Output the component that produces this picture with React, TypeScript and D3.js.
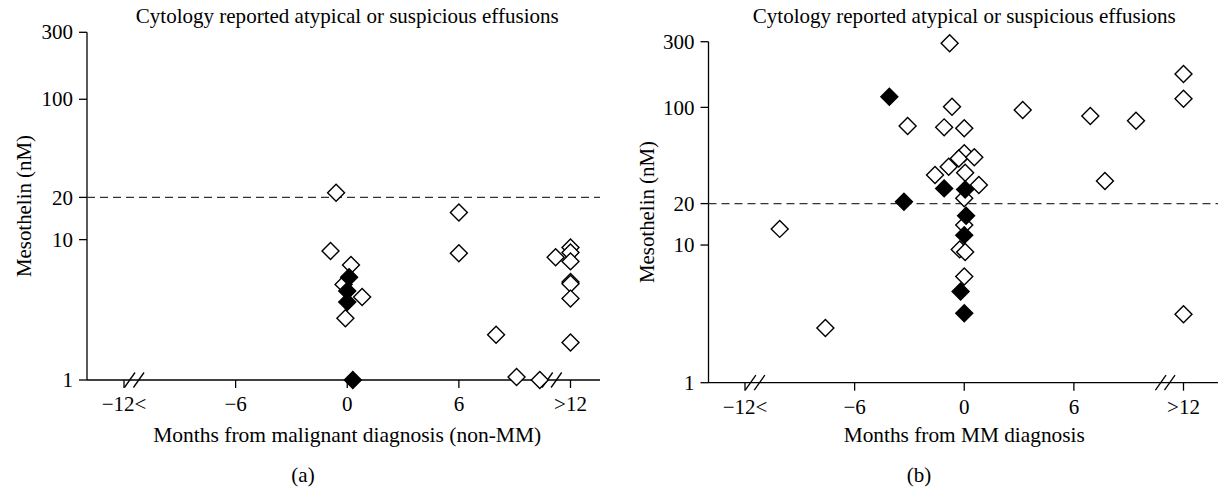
import React from "react";
import * as d3 from "d3";

// ---- data ----
const xTickValues = [-12, -6, 0, 6, 12];
const xTickLabels = ["\u221212<", "\u22126", "0", "6", ">12"];
const yTickValues = [1, 10, 20, 100, 300];
const yTickLabels = ["1", "10", "20", "100", "300"];
const cutoff = 20;

const titleA = "Cytology reported atypical or suspicious effusions";
const titleB = "Cytology reported atypical or suspicious effusions";
const xLabelA = "Months from malignant diagnosis (non-MM)";
const xLabelB = "Months from MM diagnosis";
const yLabel = "Mesothelin (nM)";

// panel (a): [months, mesothelin nM]
const openA: [number, number][] = [
  [-0.6, 21.6], [6, 15.6], [-0.9, 8.3], [6, 8.0], [0.2, 6.6], [-0.2, 4.8],
  [0.8, 3.9], [-0.1, 2.75], [8, 2.1], [9.1, 1.05], [10.35, 1.0], [11.2, 7.5],
  [12, 8.8], [12, 8.1], [12, 7.0], [12, 5.0], [12, 4.85], [12, 3.8], [12, 1.85],
];
const filledA: [number, number][] = [[0.1, 5.4], [0, 4.3], [0, 3.6], [0.3, 1.0]];

// panel (b)
const openB: [number, number][] = [
  [-10.1, 13.1], [-7.6, 2.5], [-0.8, 292], [-0.67, 101], [3.2, 95.7], [-3.1, 73.2],
  [-1.1, 71.6], [0, 70.5], [0, 46.4], [-0.3, 42.5], [0.55, 43.4], [-0.85, 37.1],
  [0.05, 33.5], [-1.6, 32.3], [0.8, 27.3], [0, 21.9], [0, 14.0], [-0.25, 9.3],
  [0.05, 8.9], [0, 5.9], [12, 175], [12, 115.6], [6.9, 86.6], [9.4, 80],
  [7.7, 29.2], [12, 3.14],
];
const filledB: [number, number][] = [
  [-4.1, 119.6], [-1.1, 25.8], [0.05, 25.3], [-3.3, 20.6], [0.1, 16.3],
  [0, 11.8], [-0.2, 4.6], [0, 3.2],
];
const breaksMonths = [-11.45, 11.0];

const FONT = '"Liberation Serif", "Times New Roman", Times, serif';
const FS = 21;
const tStyle: React.CSSProperties = { fontFamily: FONT, fontSize: FS };

type PanelProps = {
  axisX0: number; axisX1: number; x0: number; x1: number; yBottom: number; yTop: number;
  title: string; xLabel: string; xLabelLen: number; tag: string; tagX: number; yLabelX: number; yLabelY: number;
  open: [number, number][]; filled: [number, number][];
};

const diamond = d3.symbol(d3.symbolSquare, 144)();

function Panel(p: PanelProps) {
  const x = d3.scaleLinear().domain([-12, 12]).range([p.x0, p.x1]);
  const y = d3.scaleLog().domain([1, 300]).range([p.yBottom, p.yTop]);
  const cx = x(0);
  return (
    <g>
      <text x={cx} y={23} textAnchor="middle" style={tStyle} textLength={423} lengthAdjust="spacingAndGlyphs">{p.title}</text>
      <line x1={p.axisX0} x2={p.axisX0} y1={y(300)} y2={y(1)} stroke="#000" strokeWidth={1.3} />
      <line x1={p.axisX0} x2={p.axisX1} y1={y(1)} y2={y(1)} stroke="#000" strokeWidth={1.3} />
      {yTickValues.map((v, i) => (
        <g key={"yt" + i}>
          <line x1={p.axisX0 - 8} x2={p.axisX0} y1={y(v)} y2={y(v)} stroke="#000" strokeWidth={1.3} />
          <text x={p.axisX0 - 14} y={y(v)} dy="0.34em" textAnchor="end" style={tStyle}>{yTickLabels[i]}</text>
        </g>
      ))}
      {xTickValues.map((v, i) => (
        <g key={"xt" + i}>
          <line x1={x(v)} x2={x(v)} y1={y(1)} y2={y(1) + 8} stroke="#000" strokeWidth={1.3} />
          <text x={x(v)} y={y(1) + 31} textAnchor="middle" style={tStyle}>{xTickLabels[i]}</text>
        </g>
      ))}
      {breaksMonths.map((m, i) => (
        <g key={"br" + i}>
          {[-4.5, 4.5].map((o, j) => (
            <line key={j} x1={x(m) + o - 5.3} y1={y(1) + 7.5} x2={x(m) + o + 5.3} y2={y(1) - 7.5}
              stroke="#000" strokeWidth={1.3} />
          ))}
        </g>
      ))}
      <line x1={p.axisX0} x2={p.axisX1} y1={y(cutoff)} y2={y(cutoff)} stroke="#333"
        strokeWidth={1.3} strokeDasharray="8,5" />
      {p.open.map((d, i) => (
        <path key={"o" + i} d={diamond!} transform={`translate(${x(d[0])},${y(d[1])}) rotate(45)`}
          fill="#fff" stroke="#000" strokeWidth={1.4} />
      ))}
      {p.filled.map((d, i) => (
        <path key={"f" + i} d={diamond!} transform={`translate(${x(d[0])},${y(d[1])}) rotate(45)`}
          fill="#000" stroke="#000" strokeWidth={1.4} />
      ))}
      <text x={cx} y={442} textAnchor="middle" style={tStyle} textLength={p.xLabelLen} lengthAdjust="spacingAndGlyphs">{p.xLabel}</text>
      <text x={p.tagX} y={482} textAnchor="middle" style={tStyle}>{p.tag}</text>
      <text transform={`translate(${p.yLabelX},${p.yLabelY}) rotate(-90)`} textAnchor="middle" style={tStyle}
        textLength={142} lengthAdjust="spacingAndGlyphs">{yLabel}</text>
    </g>
  );
}

export default function App() {
  return (
    <div style={{ position: "absolute", left: 0, top: 0 }}>
      <svg width={1218} height={488} style={{ display: "block", background: "#fff" }}>
        <rect width={1218} height={488} fill="#fff" />
        <Panel axisX0={87} axisX1={600} x0={124} x1={570.5} yBottom={380} yTop={32.3}
          title={titleA} xLabel={xLabelA} xLabelLen={388} tag="(a)" tagX={303} yLabelX={31} yLabelY={206}
          open={openA} filled={filledA} />
        <Panel axisX0={708.5} axisX1={1218} x0={745} x1={1183.5} yBottom={382.7} yTop={41.7}
          title={titleB} xLabel={xLabelB} xLabelLen={241} tag="(b)" tagX={919} yLabelX={654} yLabelY={212}
          open={openB} filled={filledB} />
      </svg>
    </div>
  );
}
